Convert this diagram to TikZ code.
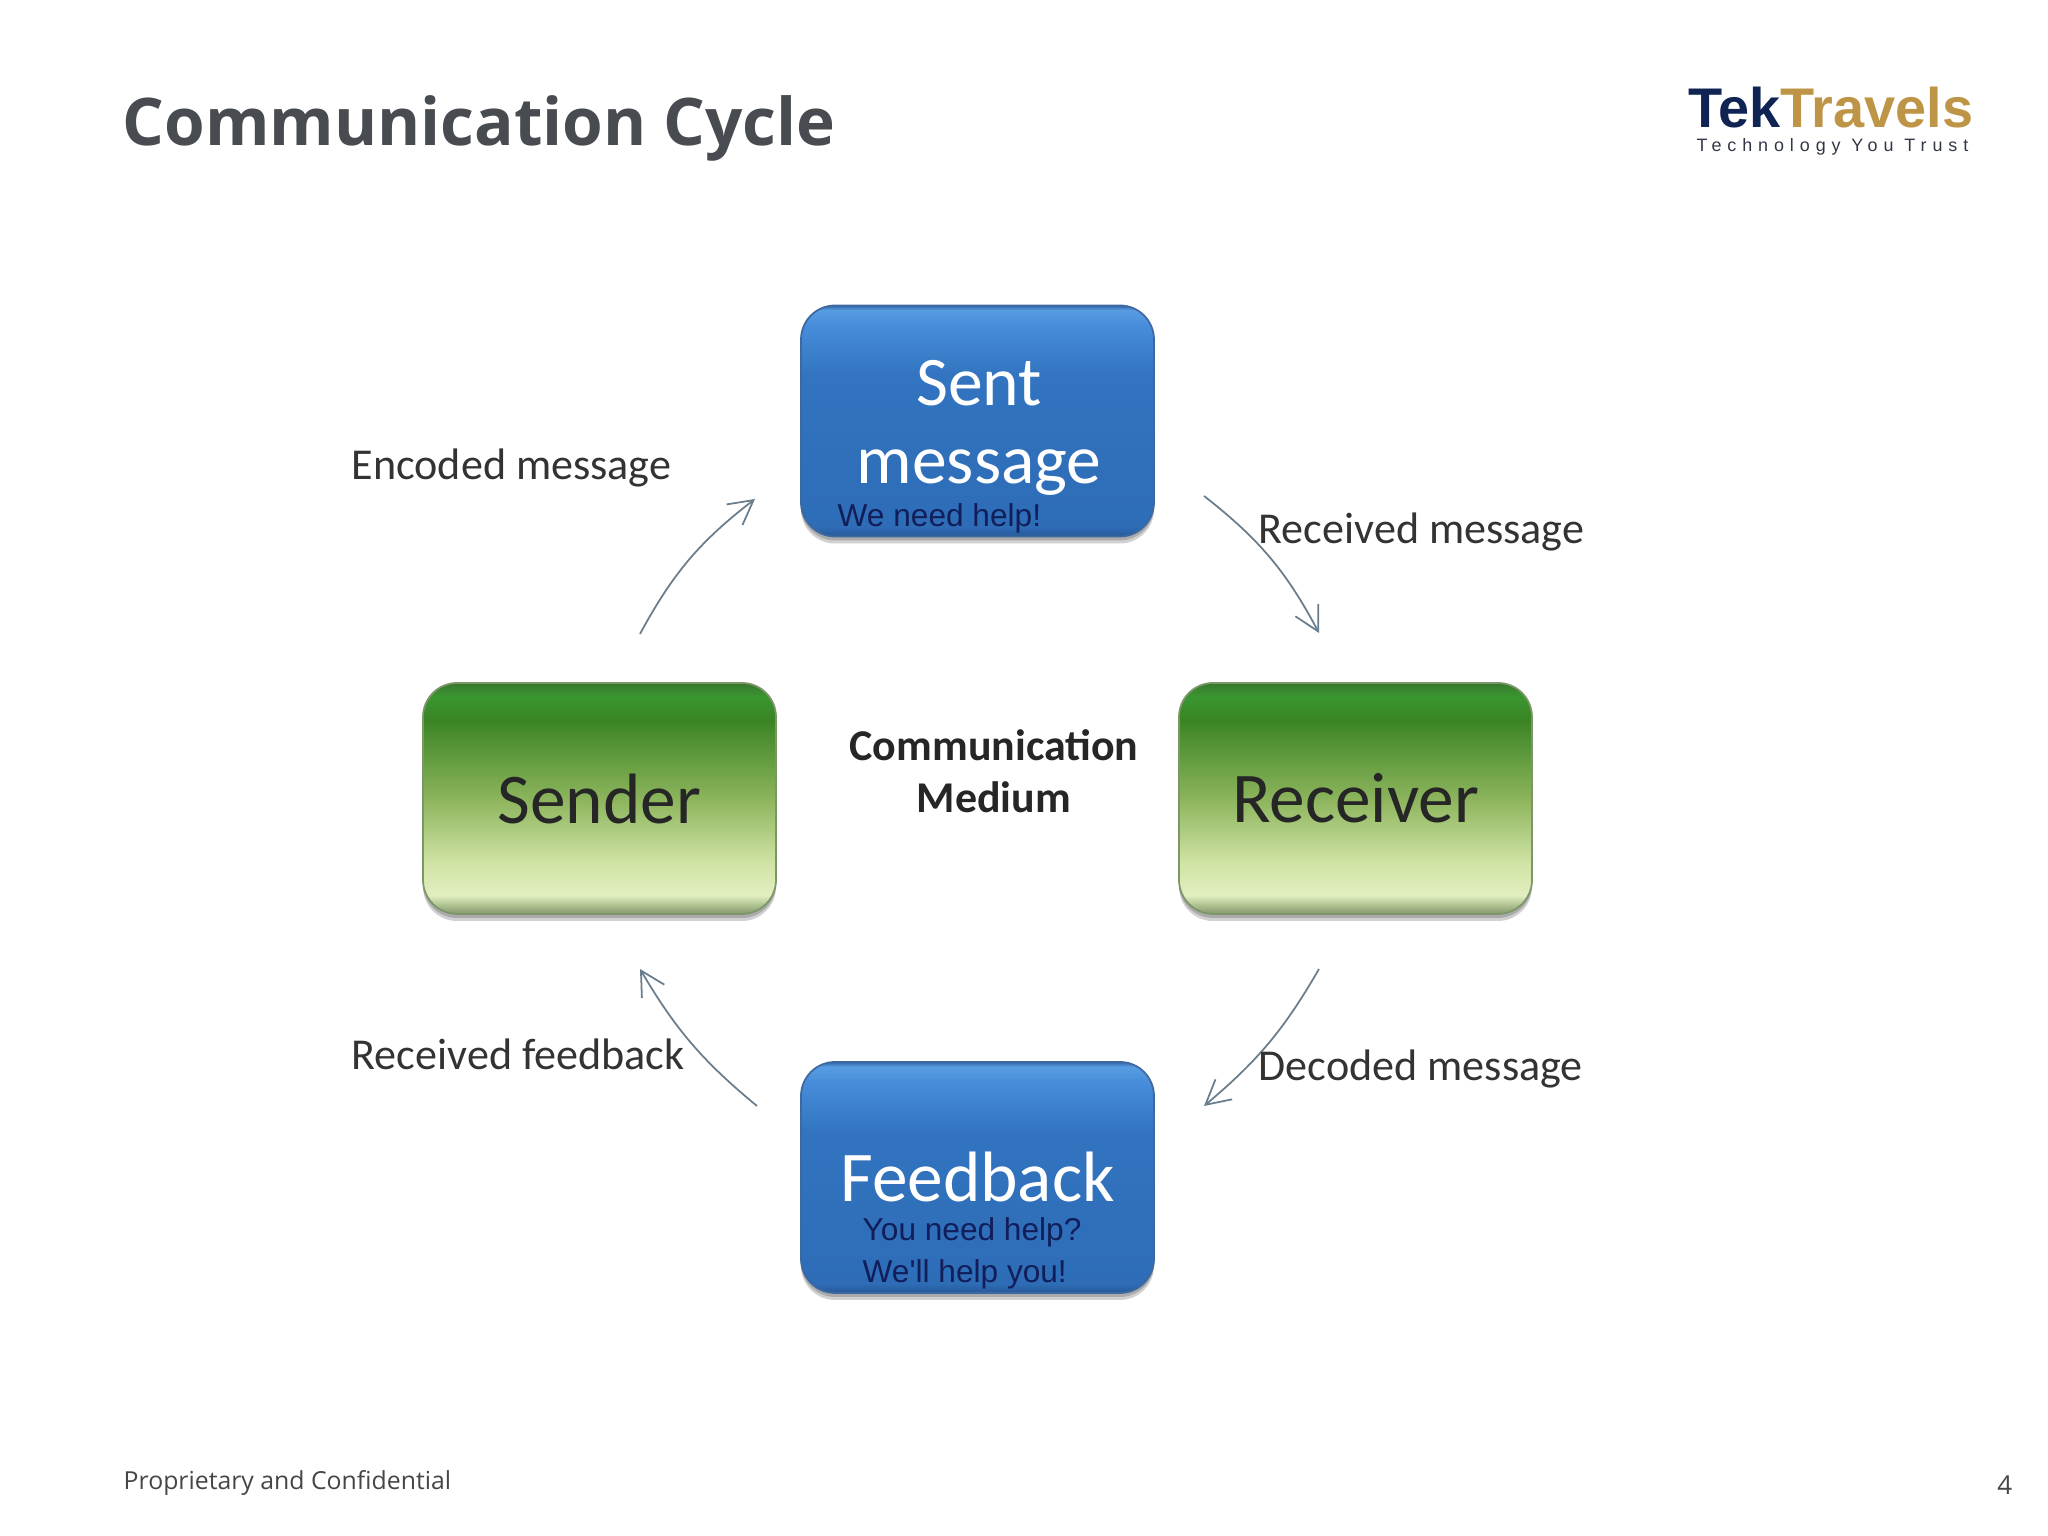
\documentclass[tikz,border=0pt]{standalone}
\usepackage{xcolor}
\usepackage{fontspec}
\usetikzlibrary{arrows.meta,shadows}
\setmainfont{Carlito}
\newfontfamily\titlefont{Open Sans}
\newfontfamily\arialfont{Liberation Sans}
\newfontfamily\tagfont[LetterSpace=33]{Liberation Sans}
\definecolor{titlegray}{RGB}{72, 75, 80}
\definecolor{footgray}{RGB}{70, 70, 70}
\definecolor{logonavy}{RGB}{16, 36, 84}
\definecolor{logogold}{RGB}{190, 148, 70}
\definecolor{taggray}{RGB}{50, 55, 70}
\definecolor{helpnavy}{RGB}{18, 30, 90}
\definecolor{arrowgray}{RGB}{105, 125, 140}
\definecolor{blueedge}{RGB}{62, 105, 160}
\definecolor{greenedge}{RGB}{125, 150, 105}
\pgfdeclareverticalshading{blueface}{100bp}{rgb(0bp)=(.149,.345,.588); rgb(25bp)=(.149,.345,.588); rgb(27bp)=(.18,.424,.714); rgb(60bp)=(.196,.455,.753); rgb(71bp)=(.282,.557,.855); rgb(74bp)=(.345,.612,.886); rgb(75bp)=(.196,.392,.647); rgb(100bp)=(.196,.392,.647)}
\pgfdeclareverticalshading{greenface}{100bp}{rgb(0bp)=(.51,.588,.431); rgb(25bp)=(.51,.588,.431); rgb(27bp)=(.686,.765,.569); rgb(29bp)=(.886,.933,.753); rgb(36bp)=(.816,.894,.647); rgb(50bp)=(.549,.706,.361); rgb(67bp)=(.227,.518,.141); rgb(72bp)=(.227,.588,.188); rgb(75bp)=(.216,.471,.176); rgb(100bp)=(.216,.471,.176)}
\tikzset{
    facebox/.style={rounded corners=0.34cm, minimum width=3.53cm, minimum height=2.31cm,
        align=center, inner sep=0pt, line width=0.5pt,
        drop shadow={shadow xshift=0cm, shadow yshift=-0.07cm, opacity=0.18, fill=black},
        drop shadow={shadow xshift=0cm, shadow yshift=-0.04cm, opacity=0.18, fill=black},
        font=\fontsize{20.3}{22.2}\selectfont},
    bluebox/.style={facebox, shading=blueface, draw=blueedge, text=white},
    greenbox/.style={facebox, shading=greenface, draw=greenedge, text=black!85},
    edgelabel/.style={anchor=base west, text=black!80, font=\fontsize{12.55}{15}\selectfont},
    helptext/.style={anchor=base west, text=helpnavy, font=\arialfont\fontsize{9}{11}\selectfont},
    flow/.style={-{Straight Barb[length=0.24cm,width=0.26cm]}, arrowgray, line width=0.5pt}
}

\begin{document}
\begin{tikzpicture}
    \useasboundingbox (0,0) rectangle (20.48,15.36);

    % slide header and footer
    \node[anchor=base west, inner sep=0pt, text=titlegray, font=\titlefont\bfseries\fontsize{18.7}{22}\selectfont] (title) at (1.22,13.90) {Communication Cycle};
    \node[anchor=base west, inner sep=0pt, font=\arialfont\bfseries\fontsize{15.9}{18}\selectfont] (logo) at (16.88,14.08) {\textcolor{logonavy}{Tek}\textcolor{logogold}{Travels}};
    \node[anchor=base west, inner sep=0pt, text=taggray, font=\tagfont\fontsize{5.1}{6}\selectfont] (tagline) at (16.96,13.84) {Technology You Trust};
    \node[anchor=base west, inner sep=0pt, text=footgray, font=\titlefont\fontsize{7.06}{9}\selectfont] (footer) at (1.23,0.46) {Proprietary and Confidential};
    \node[anchor=base east, inner sep=0pt, text=footgray, font=\titlefont\fontsize{7.4}{9}\selectfont] (pageno) at (20.13,0.41) {4};

    % the four boxes
    \node[bluebox] (sent) at (9.775,11.15) {};
    \node[inner sep=0pt, align=center, text=white, font=\fontsize{19.8}{22.2}\selectfont] (sentlabel) at (9.79,11.08) {Sent\\message};
    \node[greenbox] (sender) at (5.995,7.375) {Sender};
    \node[greenbox] (receiver) at (13.555,7.375) {Receiver};
    \node[bluebox] (feedback) at (9.775,3.585) {Feedback};

    % small text inside the blue boxes
    \node[helptext, inner sep=0pt] (need) at (8.37,10.09) {We need help!};
    \node[helptext, inner sep=0pt] (youneed) at (8.62,2.95) {You need help?};
    \node[helptext, inner sep=0pt] (wehelp) at (8.62,2.53) {We'll help you!};

    % centre
    \node[align=center, inner sep=0pt, text=black!85, font=\bfseries\fontsize{12.5}{14.8}\selectfont] (medium) at (9.94,7.65) {Communication\\Medium};

    % arrow ends
    \coordinate (enc1) at (6.40,9.02);
    \coordinate (enc2) at (7.55,10.37);
    \coordinate (rec1) at (12.04,10.40);
    \coordinate (rec2) at (13.19,9.03);
    \coordinate (dec1) at (13.19,5.67);
    \coordinate (dec2) at (12.04,4.30);
    \coordinate (fbk1) at (7.57,4.30);
    \coordinate (fbk2) at (6.40,5.67);

    \draw[flow] (enc1) to[bend left=12] (enc2);
    \draw[flow] (rec1) to[bend left=12] (rec2);
    \draw[flow] (dec1) to[bend left=10] (dec2);
    \draw[flow] (fbk1) to[bend left=10] (fbk2);

    \node[edgelabel, inner sep=0pt] (encoded) at (3.51,10.56) {Encoded message};
    \node[edgelabel, inner sep=0pt] (received) at (12.58,9.92) {Received message};
    \node[edgelabel, inner sep=0pt] (recfeed) at (3.51,4.66) {Received feedback};
    \node[edgelabel, inner sep=0pt] (decoded) at (12.58,4.55) {Decoded message};
\end{tikzpicture}
\end{document}
